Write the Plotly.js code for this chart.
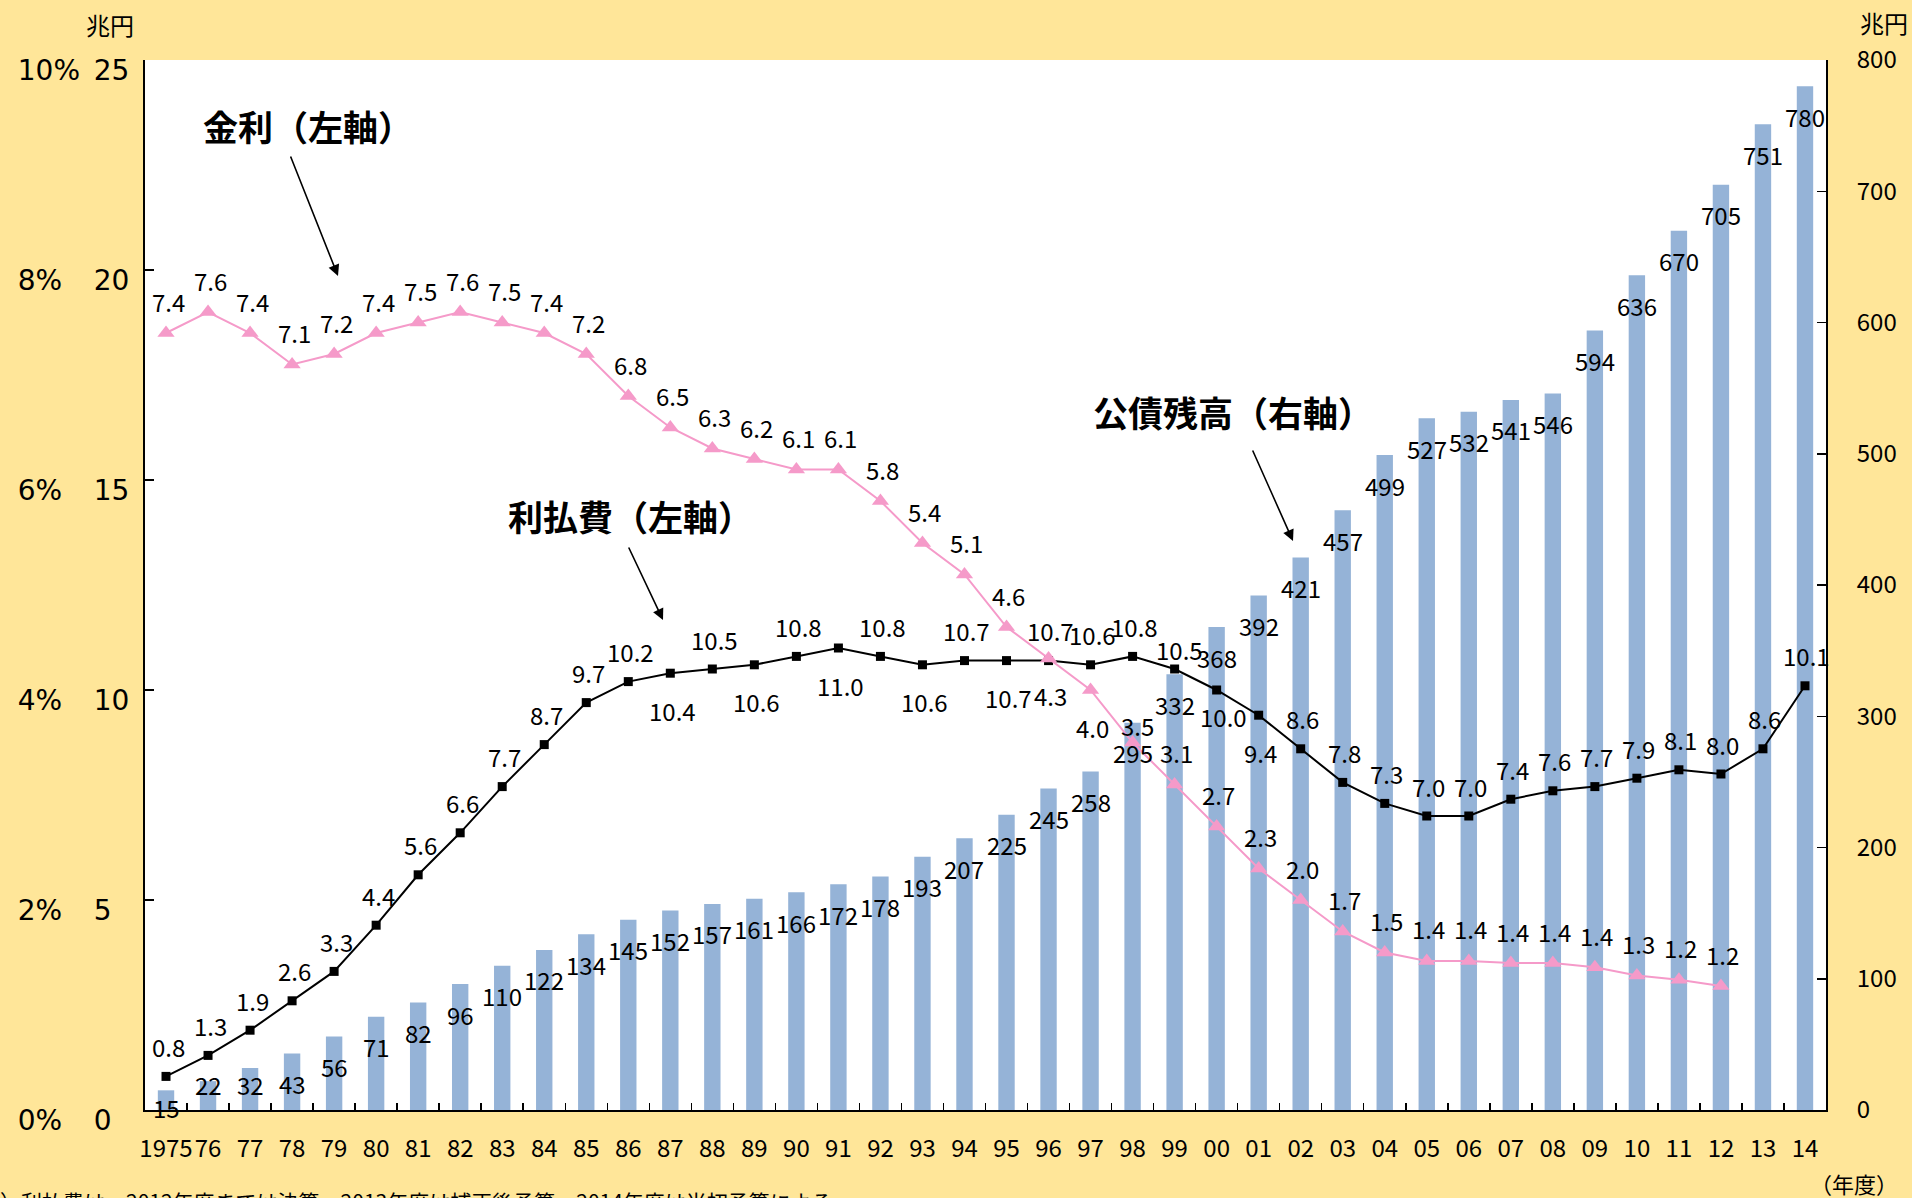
<!DOCTYPE html>
<html><head><meta charset="utf-8">
<script src="https://cdn.plot.ly/plotly-3.0.1.min.js"></script>
<style>html,body{margin:0;padding:0;background:#FFE699;} #chart{width:1912px;height:1198px;}</style>
</head><body><div id="chart"></div>
<script>
// ---- data ----
const years = ['1975','76','77','78','79','80','81','82','83','84','85','86','87','88','89','90','91','92','93','94','95','96','97','98','99','00','01','02','03','04','05','06','07','08','09','10','11','12','13','14'];
// 公債残高（兆円, right axis）
const debtBalance = [15,22,32,43,56,71,82,96,110,122,134,145,152,157,161,166,172,178,193,207,225,245,258,295,332,368,392,421,457,499,527,532,541,546,594,636,670,705,751,780];
// 利払費（兆円, left axis）
const interestPayments = [0.8,1.3,1.9,2.6,3.3,4.4,5.6,6.6,7.7,8.7,9.7,10.2,10.4,10.5,10.6,10.8,11.0,10.8,10.6,10.7,10.7,10.7,10.6,10.8,10.5,10.0,9.4,8.6,7.8,7.3,7.0,7.0,7.4,7.6,7.7,7.9,8.1,8.0,8.6,10.1];
// 金利（%, left axis, 1975-2012）
const interestRate = [7.4,7.6,7.4,7.1,7.2,7.4,7.5,7.6,7.5,7.4,7.2,6.8,6.5,6.3,6.2,6.1,6.1,5.8,5.4,5.1,4.6,4.3,4.0,3.5,3.1,2.7,2.3,2.0,1.7,1.5,1.42,1.42,1.40,1.40,1.36,1.28,1.24,1.18];
const rateYears = years.slice(0, interestRate.length);
const leftTicks = [0,5,10,15,20,25];
const rateTicks = [0,2,4,6,8,10];

// ---- label placement (style) ----
const barOverride = {'1975': -17};
const payBelow = ['87','89','91','93','95','00','01'];
const payOverride = {'99': [5, 20], '00': [7, -26]};
const rateBelow = ['96','97'];
const rateOverride = {'98': [5, 17]};

const FONT = "'Noto Sans CJK JP', 'Noto Sans', sans-serif";
const AXFONT = "'DejaVu Sans', 'Noto Sans CJK JP', sans-serif";
const W = 1912, H = 1198;
const M = {l:145, r:86, t:60, b:88};
const plotW = W - M.l - M.r, plotH = H - M.t - M.b;
const px2x = p => (p - M.l) / plotW;
const px2y = p => (H - M.b - p) / plotH;
// left-aligned look for left tick labels: pad shorter labels with figure spaces
const FS = '\u2007';
const padRight = (s, n) => s + FS.repeat(Math.max(0, n - s.length));

const traces = [
  {type:'bar', x: years, y: debtBalance, name:'公債残高', marker:{color:'#95B3D7'}, xaxis:'x', yaxis:'y'},
  {type:'scatter', mode:'lines+markers', x: years, y: interestPayments, name:'利払費', xaxis:'x', yaxis:'y2',
   line:{color:'#000000', width:2}, marker:{symbol:'square', size:9, color:'#000000'}},
  {type:'scatter', mode:'lines+markers', x: rateYears, y: interestRate, name:'金利', xaxis:'x', yaxis:'y3',
   line:{color:'#F59AC9', width:2}, marker:{symbol:'triangle-up', size:15, color:'#F59AC9'}}
];

const ann = [];
const lblFont = {family: FONT, size: 24, color: '#000'};
// bar labels
const pxPerUnit = plotH / 800;
debtBalance.forEach((v, i) => {
  const top = v * pxPerUnit;
  const shift = (years[i] in barOverride) ? barOverride[years[i]] : Math.max(-30, 26 - top);
  ann.push({x: i, y: v, xref:'x', yref:'y', text: String(v), showarrow:false, xanchor:'center', yanchor:'middle',
    font: lblFont, yshift: shift});
});
// interest payment labels
interestPayments.forEach((v, i) => {
  const yr = years[i];
  let dx = 2, dy = 30;
  if (payBelow.includes(yr)) dy = -37;
  if (payOverride[yr]) { dx = payOverride[yr][0]; dy = payOverride[yr][1]; }
  ann.push({x: i, y: v, xref:'x', yref:'y2', text: v.toFixed(1), showarrow:false, xanchor:'center', yanchor:'middle',
    font: lblFont, xshift: dx, yshift: dy});
});
// interest rate labels
interestRate.forEach((v, i) => {
  const yr = rateYears[i];
  let dx = 2, dy = 32;
  if (rateBelow.includes(yr)) dy = -37;
  if (rateOverride[yr]) { dx = rateOverride[yr][0]; dy = rateOverride[yr][1]; }
  ann.push({x: i, y: v, xref:'x', yref:'y3', text: v.toFixed(1), showarrow:false, xanchor:'center', yanchor:'middle',
    font: lblFont, xshift: dx, yshift: dy});
});

// callouts and arrows
const boldFont = {family: FONT, size: 35, color:'#000', weight: 'bold'};
const paperText = (px, py, text, font, xa) => ann.push({xref:'paper', yref:'paper', x: px2x(px), y: px2y(py), text: text,
  showarrow:false, font: font, xanchor: xa || 'center', yanchor:'middle'});
paperText(308, 126, '<b>金利（左軸）</b>', boldFont);
paperText(630, 515, '<b>利払費（左軸）</b>', boldFont);
paperText(1233, 411, '<b>公債残高（右軸）</b>', boldFont);
const arrows = [[290,155,338,276],[628,546,663,620],[1252,449,1293,541]];
arrows.forEach(a => ann.push({xref:'paper', yref:'paper', x: px2x(a[2]), y: px2y(a[3]), ax: a[0]-a[2], ay: a[1]-a[3],
  axref:'pixel', ayref:'pixel', text:'', showarrow:true, arrowhead:2, arrowsize:1.4, arrowwidth:1.6, arrowcolor:'#000'}));

// unit labels and notes
const unitFont = {family: FONT, size: 24, color:'#000'};
paperText(110, 24, '兆円', unitFont);
paperText(1884, 23, '兆円', unitFont);
paperText(1900, 1183, '（年度）', {family: FONT, size: 22, color:'#000'}, 'right');
ann.push({xref:'paper', yref:'paper', x: px2x(-44), y: px2y(1184), xanchor:'left', yanchor:'top',
  text:'（注）利払費は、2012年度までは決算、2013年度は補正後予算、2014年度は当初予算による。', showarrow:false,
  font: {family: FONT, size: 21, color:'#000'}});

const tickFont = {family: FONT, size: 24, color:'#000'};
const leftTickFont = {family: AXFONT, size: 28, color:'#000'};
const layout = {
  width: W, height: H,
  margin: M,
  paper_bgcolor: '#FFE699',
  plot_bgcolor: '#FFFFFF',
  showlegend: false,
  bargap: 0.61,
  font: {family: FONT, color:'#000'},
  xaxis: {type:'category', range:[-0.5, years.length - 0.5], autorange:false, tickangle: 0, tickfont: tickFont,
    showline:true, linecolor:'#000', linewidth:2,
    ticks:'inside', tickson:'boundaries', ticklen:7, tickcolor:'#000', tickwidth:1.5, showgrid:false, zeroline:false,
    ticklabelstandoff: 16},
  yaxis: {range:[0,800], dtick:100, side:'right', tickfont: tickFont, showline:true, linecolor:'#000', linewidth:2,
    ticks:'inside', ticklen:9, tickcolor:'#000', tickwidth:1.5, showgrid:false, zeroline:false, ticklabelstandoff: 24},
  yaxis2: {range:[0,25], tickmode:'array', tickvals: leftTicks, ticktext: leftTicks.map(v => padRight(String(v), 2)),
    side:'left', overlaying:'y', tickfont: leftTickFont, showline:true, linecolor:'#000', linewidth:2,
    ticks:'inside', ticklen:9, tickcolor:'#000', tickwidth:1.5, showgrid:false, zeroline:false, ticklabelstandoff: 8, ticklabelshift: 10},
  yaxis3: {range:[0,10], tickmode:'array', tickvals: rateTicks, ticktext: rateTicks.map(v => padRight(v + '%', 3)),
    side:'left', overlaying:'y', anchor:'free', position:0, tickfont: leftTickFont, showline:false, ticks:'', showgrid:false,
    zeroline:false, ticklabelstandoff: 65, ticklabelshift: 10},
  annotations: ann
};

Plotly.newPlot('chart', traces, layout, {displayModeBar:false, staticPlot:true});
</script>
</body></html>
